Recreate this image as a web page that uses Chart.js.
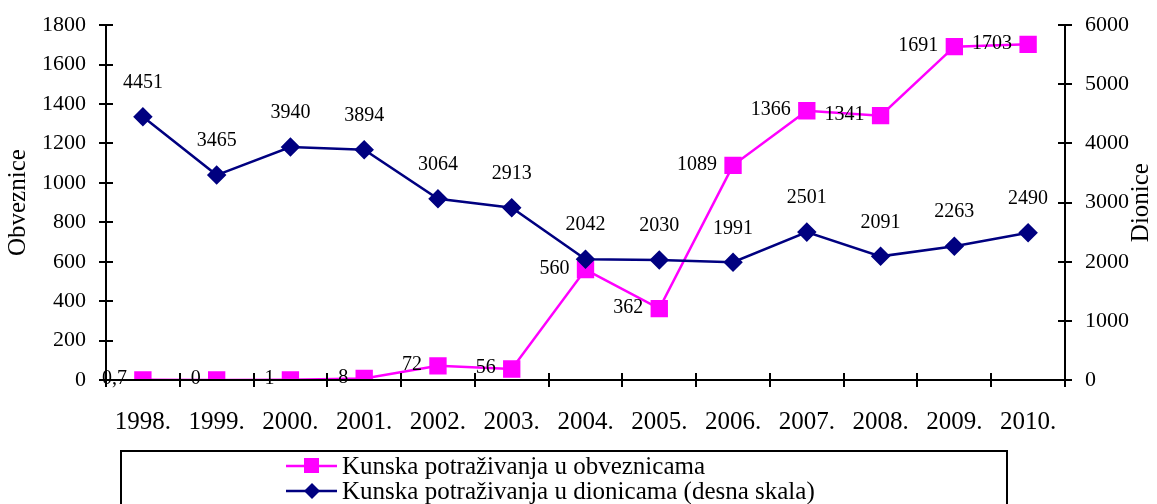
<!DOCTYPE html>
<html>
<head>
<meta charset="utf-8">
<script src="https://cdn.jsdelivr.net/npm/chart.js@4.4.0/dist/chart.umd.min.js"></script>
<style>
  html, body { margin: 0; padding: 0; background: #fff; }
  #wrap { width: 1157px; height: 504px; }
</style>
</head>
<body>
<div id="wrap"><canvas id="myChart" width="1157" height="504"></canvas></div>
<script>
var years = ['1998.', '1999.', '2000.', '2001.', '2002.', '2003.', '2004.', '2005.', '2006.', '2007.', '2008.', '2009.', '2010.'];
var obveznice = [0.7, 0, 1, 8, 72, 56, 560, 362, 1089, 1366, 1341, 1691, 1703];
var obvLabels = ['0,7', '0', '1', '8', '72', '56', '560', '362', '1089', '1366', '1341', '1691', '1703'];
var dionice = [4451, 3465, 3940, 3894, 3064, 2913, 2042, 2030, 1991, 2501, 2091, 2263, 2490];

var FONT = "'Liberation Serif', 'Times New Roman', serif";

// value labels next to points
var labelPlugin = {
    id: 'valueLabels',
    afterDatasetsDraw: function(chart) {
        var ctx = chart.ctx;
        ctx.save();
        ctx.font = '20px ' + FONT;
        ctx.fillStyle = '#000';
        chart.data.datasets.forEach(function(ds, di) {
            var meta = chart.getDatasetMeta(di);
            meta.data.forEach(function(pt, i) {
                ctx.textBaseline = 'middle';
                if (ds.yAxisID === 'y') {
                    ctx.textAlign = 'right';
                    ctx.fillText(ds.valueLabels[i], pt.x - 16, pt.y - 1);
                } else {
                    ctx.textAlign = 'center';
                    ctx.fillText(String(ds.data[i]), pt.x, pt.y - 34);
                }
            });
        });
        ctx.restore();
    }
};

// axis tick marks crossing the axis lines, axis titles + legend box
var axesPlugin = {
    id: 'crossTicks',
    afterDraw: function(chart) {
        var ctx = chart.ctx;
        var a = chart.chartArea;
        ctx.save();
        ctx.strokeStyle = '#000';
        ctx.lineWidth = 2;
        ctx.beginPath();
        var sy = chart.scales.y, sy1 = chart.scales.y1;
        sy.ticks.forEach(function(t) {
            var p = Math.round(sy.getPixelForValue(t.value));
            ctx.moveTo(a.left - 7, p); ctx.lineTo(a.left + 7, p);
        });
        sy1.ticks.forEach(function(t) {
            var p = Math.round(sy1.getPixelForValue(t.value));
            ctx.moveTo(a.right - 7, p); ctx.lineTo(a.right + 7, p);
        });
        var n = years.length;
        for (var i = 0; i <= n; i++) {
            var px = Math.round(a.left + i * (a.right - a.left) / n);
            ctx.moveTo(px, a.bottom - 7); ctx.lineTo(px, a.bottom + 7);
        }
        ctx.moveTo(a.left, a.top); ctx.lineTo(a.left, a.bottom);
        ctx.moveTo(a.right, a.top); ctx.lineTo(a.right, a.bottom);
        ctx.moveTo(a.left, a.bottom); ctx.lineTo(a.right, a.bottom);
        ctx.stroke();

        // axis titles, both read bottom to top
        ctx.fillStyle = '#000';
        ctx.font = '25px ' + FONT;
        ctx.textAlign = 'center';
        ctx.textBaseline = 'middle';
        var mid = (a.top + a.bottom) / 2;
        [[18, 'Obveznice'], [1141, 'Dionice']].forEach(function(t) {
            ctx.save();
            ctx.translate(t[0], mid);
            ctx.rotate(-Math.PI / 2);
            ctx.fillText(t[1], 0, 0);
            ctx.restore();
        });

        // legend
        ctx.lineWidth = 2;
        ctx.strokeStyle = '#000';
        ctx.strokeRect(121, 451, 886, 70);
        ctx.font = '25px ' + FONT;
        ctx.textAlign = 'left';
        var rows = [466, 491];
        chart.data.datasets.forEach(function(ds, di) {
            var y = rows[di];
            ctx.strokeStyle = ds.borderColor;
            ctx.lineWidth = 2.5;
            ctx.beginPath();
            ctx.moveTo(286, y); ctx.lineTo(337, y);
            ctx.stroke();
            ctx.fillStyle = ds.borderColor;
            if (ds.pointStyle === 'rect') {
                ctx.fillRect(304, y - 8, 15, 15);
            } else {
                ctx.beginPath();
                ctx.moveTo(312, y - 8); ctx.lineTo(320, y); ctx.lineTo(312, y + 8); ctx.lineTo(304, y);
                ctx.closePath(); ctx.fill();
            }
            ctx.fillStyle = '#000';
            ctx.fillText(ds.label, 342, y + 1);
        });
        ctx.restore();
    }
};

function plain(v) { return String(v); }

var ctx = document.getElementById('myChart');
var myChart = new Chart(ctx, {
    type: 'line',
    data: {
        labels: years,
        datasets: [{
            label: 'Kunska potraživanja u obveznicama',
            data: obveznice,
            valueLabels: obvLabels,
            yAxisID: 'y',
            borderColor: '#FF00FF',
            backgroundColor: '#FF00FF',
            borderWidth: 2.5,
            pointStyle: 'rect',
            pointRadius: 10.5,
            pointHoverRadius: 10.5,
            tension: 0,
            order: 2,
            fill: false
        }, {
            label: 'Kunska potraživanja u dionicama (desna skala)',
            data: dionice,
            yAxisID: 'y1',
            borderColor: '#000080',
            backgroundColor: '#000080',
            borderWidth: 2.5,
            pointStyle: 'rectRot',
            pointRadius: 8,
            pointHoverRadius: 8,
            tension: 0,
            order: 1,
            fill: false
        }]
    },
    plugins: [labelPlugin, axesPlugin],
    options: {
        responsive: false,
        animation: false,
        layout: { padding: { top: 7, bottom: 64, left: 0, right: 0 } },
        plugins: {
            legend: { display: false },
            tooltip: { enabled: false }
        },
        scales: {
            x: {
                offset: true,
                grid: { display: false, offset: true },
                border: { display: false },
                ticks: { color: '#000', font: { family: FONT, size: 25 }, padding: 19, maxRotation: 0 },
                afterFit: function(s) { s.height = 60; }
            },
            y: {
                position: 'left',
                min: 0, max: 1800,
                grid: { display: false },
                border: { display: false },
                ticks: { stepSize: 200, color: '#000', font: { family: FONT, size: 22 }, padding: 12, callback: plain },
                afterFit: function(s) { s.width = 106; }
            },
            y1: {
                position: 'right',
                min: 0, max: 6000,
                grid: { display: false },
                border: { display: false },
                ticks: { stepSize: 1000, color: '#000', font: { family: FONT, size: 22 }, padding: 12, callback: plain },
                afterFit: function(s) { s.width = 92; }
            }
        }
    }
});
</script>
</body>
</html>
